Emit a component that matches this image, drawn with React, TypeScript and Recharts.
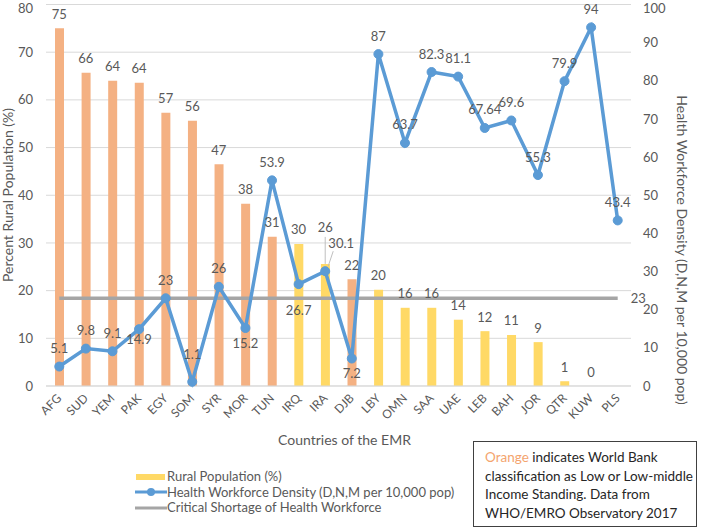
import React from "react";
import {
  ComposedChart,
  Bar,
  Line,
  XAxis,
  YAxis,
  CartesianGrid,
  Cell,
  LabelList,
  Label,
} from "recharts";

const COUNTRIES = [
  "AFG", "SUD", "YEM", "PAK", "EGY", "SOM", "SYR", "MOR", "TUN", "IRQ", "IRA",
  "DJB", "LBY", "OMN", "SAA", "UAE", "LEB", "BAH", "JOR", "QTR", "KUW", "PLS",
];
const RURAL_POPULATION = [
  75, 65.7, 64, 63.6, 57.3, 55.6, 46.5, 38.2, 31.3, 29.8, 25.6,
  22.4, 20.2, 16.4, 16.4, 13.9, 11.5, 10.7, 9.2, 1, 0, null,
];
const LOW_INCOME = ["AFG", "SUD", "YEM", "PAK", "EGY", "SOM", "SYR", "MOR", "TUN", "DJB"];
const HEALTH_WORKFORCE = [
  5.1, 9.8, 9.1, 14.9, 23, 1.1, 26, 15.2, 53.9, 26.7, 30.1,
  7.2, 87, 63.7, 82.3, 81.1, 67.64, 69.6, 55.3, 79.9, 94, 43.4,
];
const CRITICAL_SHORTAGE = 23;
const LEFT_TICKS = [0, 10, 20, 30, 40, 50, 60, 70, 80];
const RIGHT_TICKS = [0, 10, 20, 30, 40, 50, 60, 70, 80, 90, 100];

const ORANGE = "#F4B183";
const YELLOW = "#FFD966";
const BLUE = "#5B9BD5";
const GREY = "#A5A5A5";
const TEXT = "#595959";
const FONT = "Lato, 'Noto Sans', sans-serif";

// label nudges (vertical offset of the label centre from the point)
const LINE_LABEL_DY: Record<string, number> = { SOM: -27, PAK: 10, MOR: 15, IRQ: 26, DJB: 15 };

const data = COUNTRIES.map((c, i) => ({
  country: c,
  rural: RURAL_POPULATION[i],
  hwf: HEALTH_WORKFORCE[i],
  critical: CRITICAL_SHORTAGE,
}));

const CountryTick = (props: any) => {
  const { x, y, payload } = props;
  return (
    <g transform={`translate(${x + 3},${y + 5})`}>
      <text transform="rotate(-45)" textAnchor="end" fontSize={12} fill={TEXT} fontFamily={FONT}>
        {payload.value}
      </text>
    </g>
  );
};

// bar value labels, drawn from an invisible line that sits on the bar tops
const BarValue = (props: any) => {
  const { x, y, value, index } = props;
  if (value == null || y == null) return null;
  const raised = COUNTRIES[index] === "IRA";
  const cy = raised ? y - 36 : y - 14;
  return (
    <g>
      {raised && <line x1={x} y1={cy + 9} x2={x} y2={y} stroke="#BFBFBF" strokeWidth={1} />}
      <text x={x} y={cy + 4.5} textAnchor="middle" fontSize={13} fill={TEXT} fontFamily={FONT}>
        {Math.round(value)}
      </text>
    </g>
  );
};

const HwfValue = (props: any) => {
  const { x, y, value, index } = props;
  const c = COUNTRIES[index];
  if (c === "IRA") {
    return (
      <g>
        <line x1={x + 3} y1={y - 5} x2={x + 8} y2={y - 20} stroke="#BFBFBF" strokeWidth={1} />
        <text x={x + 16} y={y - 28 + 4.5} textAnchor="middle" fontSize={13} fill={TEXT} fontFamily={FONT}>
          {value}
        </text>
      </g>
    );
  }
  const dy = LINE_LABEL_DY[c] ?? -18;
  return (
    <text x={x} y={y + dy + 4.5} textAnchor="middle" fontSize={13} fill={TEXT} fontFamily={FONT}>
      {value}
    </text>
  );
};

const CriticalValue = (props: any) => {
  const { x, y, value, index } = props;
  if (index !== COUNTRIES.length - 1) return null;
  return (
    <text x={x + 13} y={y + 4.5} textAnchor="start" fontSize={13} fill={TEXT} fontFamily={FONT}>
      {value}
    </text>
  );
};

const LegendRow = ({ swatch, label }: { swatch: React.ReactNode; label: string }) => (
  <div style={{ display: "flex", alignItems: "center", height: 15.5 }}>
    <svg width={33} height={12} style={{ display: "block" }}>
      {swatch}
    </svg>
    <span>{label}</span>
  </div>
);

export default function App() {
  return (
    <div style={{ position: "absolute", left: 0, top: 0, width: 709, height: 529, background: "#fff", fontFamily: FONT }}>
      <ComposedChart width={709} height={529} data={data} margin={{ top: 4.5, right: 0, bottom: 0, left: 0 }}>
        <CartesianGrid yAxisId="left" vertical={false} stroke="#D9D9D9" strokeWidth={1} />
        <XAxis
          dataKey="country"
          height={143}
          interval={0}
          tickLine={false}
          axisLine={{ stroke: "#D9D9D9" }}
          tick={<CountryTick />}
        >
          <Label
            content={(p: any) => (
              <text x={p.viewBox.x + p.viewBox.width / 2 + 6} y={p.viewBox.y + 59} textAnchor="middle" fontSize={14} fill={TEXT} fontFamily={FONT}>
                Countries of the EMR
              </text>
            )}
          />
        </XAxis>
        <YAxis
          yAxisId="left"
          domain={[0, 80]}
          ticks={LEFT_TICKS}
          width={46}
          axisLine={false}
          tickLine={false}
          tickMargin={7}
          tick={{ fontSize: 13, fill: TEXT, fontFamily: FONT }}
        >
          <Label
            content={() => (
              <text x={0} y={0} transform="translate(13,195) rotate(-90)" textAnchor="middle" fontSize={14} fill={TEXT} fontFamily={FONT}>
                Percent Rural Population (%)
              </text>
            )}
          />
        </YAxis>
        <YAxis
          yAxisId="right"
          orientation="right"
          domain={[0, 100]}
          ticks={RIGHT_TICKS}
          width={78}
          axisLine={false}
          tickLine={false}
          tickMargin={6}
          tick={{ fontSize: 13, fill: TEXT, fontFamily: FONT }}
        >
          <Label
            content={() => (
              <text x={0} y={0} transform="translate(677,250) rotate(90)" textAnchor="middle" fontSize={14} fill={TEXT} fontFamily={FONT}>
                Health Workforce Density (D,N,M per 10,000 pop)
              </text>
            )}
          />
        </YAxis>
        <Bar yAxisId="left" dataKey="rural" barSize={9} isAnimationActive={false}>
          {data.map((d) => (
            <Cell key={d.country} fill={LOW_INCOME.includes(d.country) ? ORANGE : YELLOW} />
          ))}
        </Bar>
        <Line
          yAxisId="left"
          dataKey="rural"
          stroke="none"
          dot={false}
          activeDot={false}
          legendType="none"
          isAnimationActive={false}
        >
          <LabelList dataKey="rural" content={<BarValue />} />
        </Line>
        <Line
          yAxisId="right"
          dataKey="critical"
          stroke={GREY}
          strokeWidth={3.5}
          dot={false}
          activeDot={false}
          isAnimationActive={false}
        >
          <LabelList dataKey="critical" content={<CriticalValue />} />
        </Line>
        <Line
          yAxisId="right"
          dataKey="hwf"
          stroke={BLUE}
          strokeWidth={3.5}
          dot={{ r: 4.5, fill: BLUE, stroke: BLUE, strokeWidth: 1 }}
          isAnimationActive={false}
        >
          <LabelList dataKey="hwf" content={<HwfValue />} />
        </Line>
      </ComposedChart>

      <div style={{ position: "absolute", left: 134, top: 469, fontSize: 13, color: TEXT, lineHeight: "15.5px" }}>
        <LegendRow swatch={<rect x={2} y={3} width={29} height={6} fill={YELLOW} />} label="Rural Population (%)" />
        <LegendRow
          swatch={
            <g>
              <line x1={1} y1={6} x2={33} y2={6} stroke={BLUE} strokeWidth={3} />
              <circle cx={17} cy={6} r={4} fill={BLUE} />
            </g>
          }
          label="Health Workforce Density (D,N,M per 10,000 pop)"
        />
        <LegendRow swatch={<line x1={1} y1={6} x2={33} y2={6} stroke={GREY} strokeWidth={3} />} label="Critical Shortage of Health Workforce" />
      </div>

      <div
        style={{
          position: "absolute",
          left: 473,
          top: 441,
          width: 224,
          height: 86,
          boxSizing: "border-box",
          border: "1.5px solid #404040",
          padding: "6px 0 0 11px",
          fontSize: 13.5,
          lineHeight: "18.6px",
          color: "#262626",
          background: "#fff",
          whiteSpace: "nowrap",
        }}
      >
        <div>
          <span style={{ color: "#F4A46E" }}>Orange</span>
          <span> indicates World Bank</span>
        </div>
        <div>classification as Low or Low-middle</div>
        <div>Income Standing. Data from</div>
        <div>WHO/EMRO Observatory 2017</div>
      </div>
    </div>
  );
}
